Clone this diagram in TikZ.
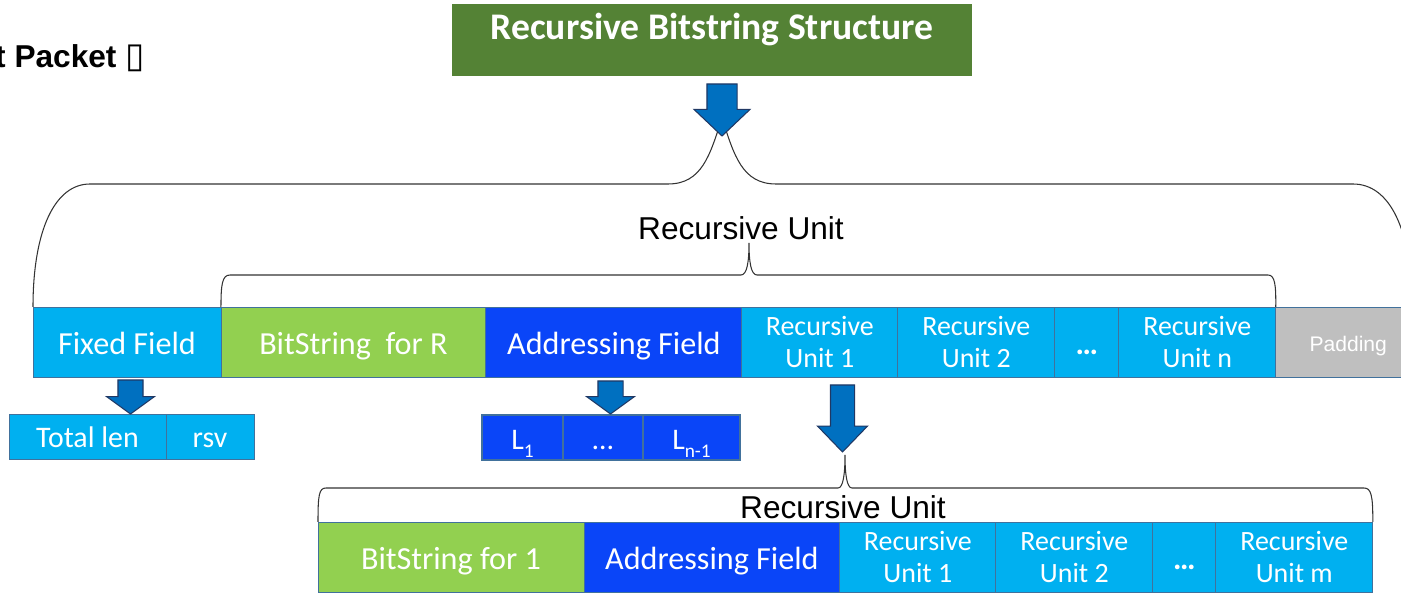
\documentclass[tikz,border=0pt]{standalone}
\usepackage{fontspec}
\setmainfont{Carlito}
\newfontfamily\arialfont{Liberation Sans}
\newfontfamily\dejavufont{DejaVu Sans}
\usetikzlibrary{positioning,shapes.arrows}

\definecolor{titlegreen}{HTML}{548235}
\definecolor{cellcyan}{HTML}{00B0F0}
\definecolor{cellgreen}{HTML}{92D050}
\definecolor{cellblue}{HTML}{0A45F8}
\definecolor{cellgray}{HTML}{BFBFBF}
\definecolor{cellline}{HTML}{41719C}
\definecolor{arrowblue}{HTML}{0070C0}
\definecolor{arrowline}{HTML}{203864}

\newcommand{\lsub}[1]{\raisebox{-0.5ex}{\fontsize{11}{12}\selectfont #1}}

\begin{document}
\begin{tikzpicture}[x=0.02cm, y=-0.02cm,
  cell/.style={draw=cellline, line width=0.5pt, outer sep=0pt, inner sep=0pt, minimum height=1.4cm, text=white, align=center, font=\fontsize{18.3}{22}\selectfont},
  oneline/.style={text height=#1, text depth=0pt},
  oneline/.default=0.52cm,
  unit/.style={cell, fill=cellcyan, font=\fontsize{15.9}{18.2}\selectfont},
  subcell/.style={cell, minimum height=0.9cm, font=\fontsize{17}{20}\selectfont},
  brace/.style={draw=black!80, line width=0.6pt},
  blockarrow/.style={single arrow, shape border rotate=270, fill=arrowblue, draw=arrowline, line width=0.6pt, inner ysep=0pt, outer sep=0pt, anchor=tail},
  caption/.style={font=\arialfont\fontsize{18}{21}\selectfont, inner sep=0pt},
]
\useasboundingbox (0,0) rectangle (1401,594);
\clip (0,0) rectangle (1401,594);

% heading
\node[fill=titlegreen, minimum width=10.4cm, text height=0.72cm, text depth=0.72cm, inner ysep=0pt, text=white, font=\bfseries\fontsize{21.4}{25}\selectfont, anchor=base] (title) at (712,40) {Recursive Bitstring Structure};
\node[font=\arialfont\bfseries\fontsize{18}{21}\selectfont, anchor=base east, inner sep=0pt] (pkt) at (145,68) {st Packet {\dejavufont\fontsize{20}{22}\selectfont ▯}};

% top level unit
\node[cell, oneline, fill=cellcyan, minimum width=3.76cm, anchor=north west] (fixed) at (33,307) {Fixed Field};
\node[cell, oneline, fill=cellgreen, minimum width=5.3cm, right=0pt of fixed] (bsr) {BitString\ \ for R};
\node[cell, oneline, fill=cellblue, minimum width=5.12cm, right=0pt of bsr] (addr) {Addressing Field};
\node[unit, minimum width=3.12cm, right=0pt of addr] (ru1) {Recursive\\Unit 1};
\node[unit, minimum width=3.14cm, right=0pt of ru1] (ru2) {Recursive\\Unit 2};
\node[unit, oneline, minimum width=1.28cm, right=0pt of ru2, font=\bfseries\fontsize{18}{21}\selectfont] (rudots) {…};
\node[unit, minimum width=3.14cm, right=0pt of rudots] (run) {Recursive\\Unit n};
\node[cell, oneline=0.4cm, fill=cellgray, minimum width=2.9cm, right=0pt of run, font=\arialfont\fontsize{12}{14}\selectfont] (pad) {Padding};

% fixed field / addressing field details
\node[subcell, oneline=0.46cm, fill=cellcyan, minimum width=3.14cm, anchor=north west] (tlen) at (9,414) {Total len};
\node[subcell, oneline=0.46cm, fill=cellcyan, minimum width=1.76cm, right=0pt of tlen] (rsv) {rsv};
\node[subcell, oneline=0.5cm, fill=cellblue, line width=1.2pt, minimum width=1.62cm, anchor=north west] (l1) at (482,415) {L\lsub{1}};
\node[subcell, oneline=0.5cm, fill=cellblue, line width=1.2pt, minimum width=1.6cm, right=0pt of l1] (ldots) {…};
\node[subcell, oneline=0.5cm, fill=cellblue, line width=1.2pt, minimum width=1.94cm, right=0pt of ldots] (ln) {L\lsub{n-1}};

% nested unit
\node[cell, oneline, fill=cellgreen, minimum width=5.32cm, anchor=north west] (bs1) at (318,522) {BitString for 1};
\node[cell, oneline, fill=cellblue, minimum width=5.12cm, right=0pt of bs1] (addr2) {Addressing Field};
\node[unit, minimum width=3.12cm, right=0pt of addr2] (su1) {Recursive\\Unit 1};
\node[unit, minimum width=3.14cm, right=0pt of su1] (su2) {Recursive\\Unit 2};
\node[unit, oneline, minimum width=1.26cm, right=0pt of su2, font=\bfseries\fontsize{18}{21}\selectfont] (sudots) {…};
\node[unit, minimum width=3.14cm, right=0pt of sudots] (sum) {Recursive\\Unit m};

% braces
\draw[brace] (fixed.north west) .. controls (33,230) and (55,184) .. (90,184) -- (668,184)
  .. controls (702,184) and (710,155) .. (722,118) .. controls (734,155) and (742,184) .. (776,184)
  -- (1353,184) .. controls (1390,184) and (1412,230) .. (1412,307);
\draw[brace] (bsr.north west) .. controls (221,285) and (222,275) .. (230,275) -- (741,275)
  .. controls (747,275) and (749,262) .. (749,243) .. controls (749,262) and (751,275) .. (757,275)
  -- (1268,275) .. controls (1275,275) and (1276,285) .. (run.north east);
\draw[brace] (bs1.north west) .. controls (318,495) and (319,488) .. (326,488) -- (838,488)
  .. controls (843,488) and (845,475) .. (845,455) .. controls (845,475) and (847,488) .. (852,488)
  -- (1364,488) .. controls (1371,488) and (1373,495) .. (sum.north east);
\node[caption] (rulabel) at (741,228) {Recursive Unit};
\node[caption] (sulabel) at (843,507) {Recursive Unit};

% block arrows
\node[blockarrow, inner xsep=0.29cm, minimum height=1.04cm, minimum width=1.1cm, single arrow head extend=0.26cm, single arrow tip angle=93] (ta) at (722,84) {};
\node[blockarrow, inner xsep=0.24cm, minimum height=0.68cm, minimum width=0.94cm, single arrow head extend=0.23cm, single arrow tip angle=108] (fa) at (130.5,380) {};
\node[blockarrow, inner xsep=0.24cm, minimum height=0.66cm, minimum width=0.94cm, single arrow head extend=0.23cm, single arrow tip angle=108] (aa) at (610.5,381) {};
\node[blockarrow, inner xsep=0.23cm, minimum height=1.34cm, minimum width=0.98cm, single arrow head extend=0.26cm, single arrow tip angle=88] (ua) at (842.5,385) {};
\end{tikzpicture}
\end{document}
